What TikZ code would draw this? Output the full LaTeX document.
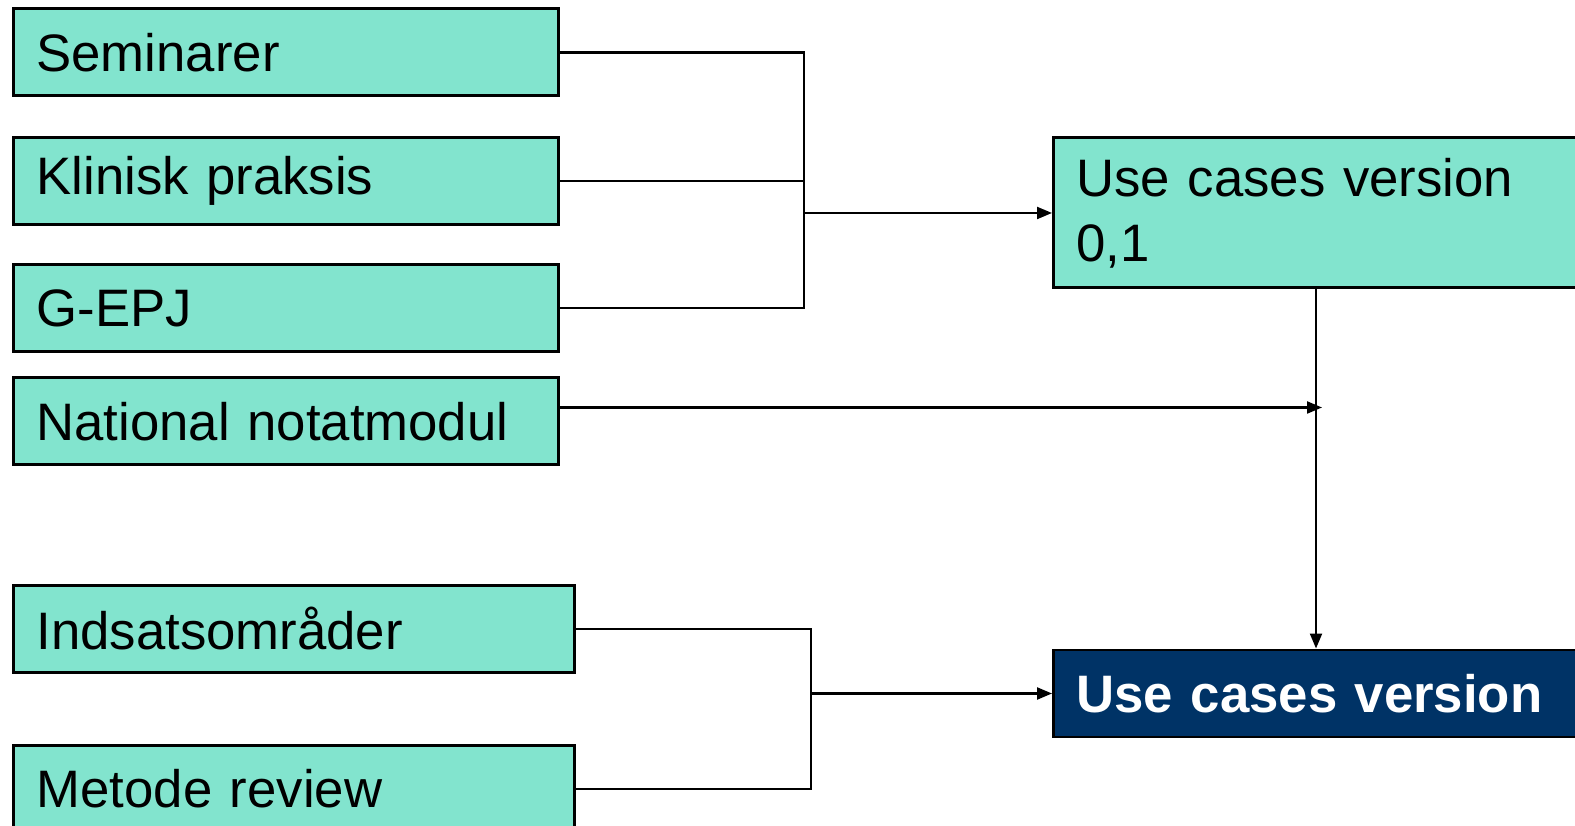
\documentclass[tikz,border=0pt]{standalone}
\usepackage{fontspec}
\setmainfont{Liberation Sans}
\usepackage{xcolor}
\usepackage{tikz}
\definecolor{aquamint}{RGB}{130,228,206}
\definecolor{navyblue}{RGB}{0,51,102}
\usetikzlibrary{arrows.meta}

\tikzset{
	srcbox/.style = {draw, line width = 1.7pt, fill = aquamint, anchor = west, align = left,
		inner xsep = 0.46cm, minimum height = 1.74cm, font = \fontsize{30pt}{37pt}\selectfont},
	link/.style = {line width = 1.25pt},
	arr/.style = {link, -{Triangle[length=0.3cm,width=0.24cm]}}
}

\begin{document}
\begin{tikzpicture}
			\useasboundingbox (0,0) rectangle (31.5,16.52);
			\clip (0,0) rectangle (31.5,16.52);
			
			\node[srcbox, text width = 9.98cm] (sem) at (0.24,15.47) {Seminarer};
			\node[srcbox, text width = 9.98cm] (kp) at (0.24,12.90) {Klinisk praksis};
			\node[srcbox, text width = 9.98cm] (gepj) at (0.24,10.36) {G-EPJ};
			\node[srcbox, text width = 9.98cm] (nat) at (0.24,8.09) {National notatmodul};
			\node[srcbox, text width = 10.30cm] (ind) at (0.24,3.94) {Indsatsområder};
			\node[srcbox, text width = 10.30cm] (met) at (0.24,0.74) {Metode review};
			
			\node[srcbox, text width = 10.5cm, minimum height = 3.0cm] (uc1) at (21.04,12.26) {Use cases version\\0,1};
			\node[srcbox, text width = 10.5cm, fill = navyblue, text = white, font = \fontsize{30pt}{37pt}\selectfont\bfseries] (uc2) at (21.04,2.65) {Use cases version};
			
			\coordinate (j1) at (16.08,12.26);
			\coordinate (j2) at (16.22,2.65);
			\coordinate (vt) at ([xshift=5.28cm]uc1.south west);
			
			\draw[link] (sem.east) -| (j1);
			\draw[link] (kp.east) -| (j1);
			\draw[link] (gepj.east) -| (j1);
			\draw[arr] (j1) -- (uc1.west);
			
			\draw[link] (ind.east) -| (j2);
			\draw[link] (met.east) -| (j2);
			\draw[arr] (j2) -- (uc2.west);
			
			\draw[arr] (vt) -- (vt |- uc2.north);
			\draw[arr, shorten >=-0.12cm] ([yshift=0.28cm]nat.east) -- ([yshift=0.28cm]nat.east -| vt);
			
			\end{tikzpicture}
\end{document}
